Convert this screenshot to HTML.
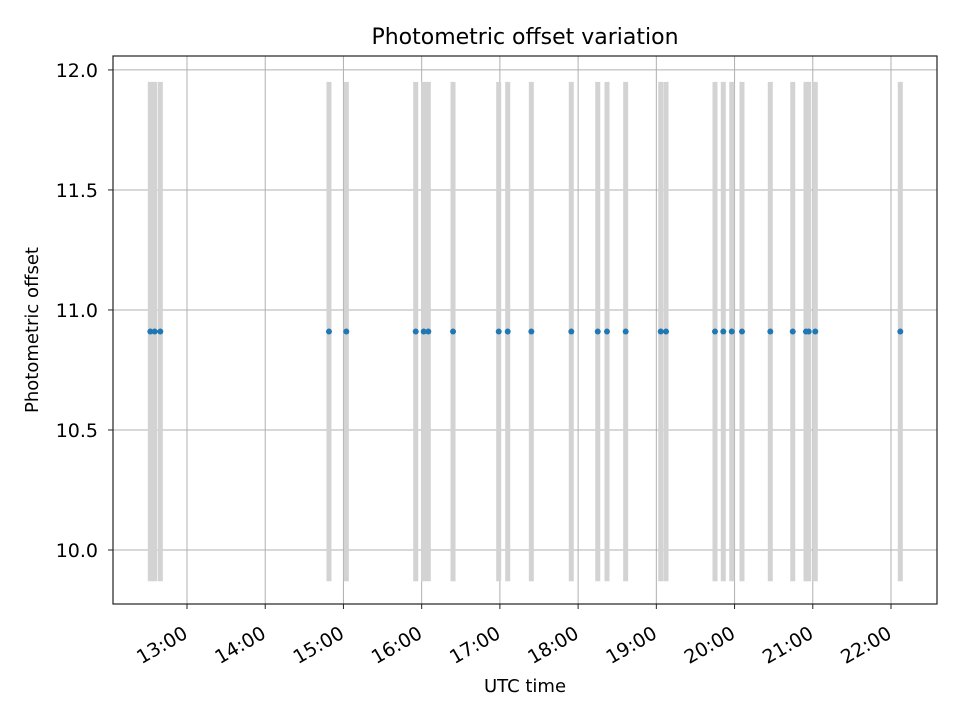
<!DOCTYPE html>
<html><head><meta charset="utf-8"><style>
body{margin:0;background:#fff}
svg text{font-family:"DejaVu Sans","Liberation Sans",sans-serif;fill:#000}
</style></head><body>
<svg id="chart" width="960" height="720" xmlns="http://www.w3.org/2000/svg"></svg>
<script>
const times = [12.531,12.587,12.659,14.815,15.037,15.924,16.026,16.085,16.401,16.985,17.100,17.402,17.913,18.251,18.369,18.608,19.056,19.124,19.750,19.856,19.964,20.095,20.457,20.744,20.913,20.948,21.032,22.119];
const offsets = times.map(()=>10.91);
const errLow = times.map(()=>9.87);
const errHigh = times.map(()=>11.95);
const xTickHours = [13,14,15,16,17,18,19,20,21,22];
const xTickLabels = ["13:00","14:00","15:00","16:00","17:00","18:00","19:00","20:00","21:00","22:00"];
const yTicks = [10.0,10.5,11.0,11.5,12.0];
const yTickLabels = ["10.0","10.5","11.0","11.5","12.0"];

const L=113,R=937,T=56,B=604;
const x0=12.054,x1=22.588,y0=9.775,y1=12.058;
const sx=v=>L+(v-x0)/(x1-x0)*(R-L);
const sy=v=>B-(v-y0)/(y1-y0)*(B-T);
const svg=document.getElementById('chart');
const NS='http://www.w3.org/2000/svg';
function mk(tag,attrs,parent){const e=document.createElementNS(NS,tag);for(const k in attrs)e.setAttribute(k,attrs[k]);(parent||svg).appendChild(e);return e;}

const grid=mk('g',{});


xTickHours.forEach(h=>{mk('line',{x1:sx(h),x2:sx(h),y1:T,y2:B,stroke:'#b0b0b0','stroke-width':1},grid);});
yTicks.forEach(v=>{mk('line',{x1:L,x2:R,y1:sy(v),y2:sy(v),stroke:'#b0b0b0','stroke-width':1},grid);});

const eg=mk('g',{});


times.forEach((t,i)=>{
  const l=mk('line',{x1:sx(t),x2:sx(t),y1:sy(errLow[i]),y2:sy(errHigh[i]),stroke:'#d3d3d3','stroke-width':5},eg);
  
  
});
const pg=mk('g',{});


times.forEach((t,i)=>{
  const c=mk('circle',{cx:sx(t),cy:sy(offsets[i]),r:3,fill:'#1f77b4'},pg);
  
  
});

const frame=mk('rect',{x:L,y:T,width:R-L,height:B-T,fill:'none',stroke:'#222','stroke-width':1.2});



const xa=mk('g',{});


xTickHours.forEach((h,i)=>{
  const x=sx(h);
  mk('line',{x1:x,x2:x,y1:B,y2:B+5,stroke:'#222','stroke-width':1},xa);
  const ax=x+2, ay=637;
  const tx=mk('text',{x:ax,y:ay,'font-size':19,'text-anchor':'end',transform:`rotate(-30 ${ax} ${ay})`},xa);
  tx.textContent=xTickLabels[i];
  
  
});
const ya=mk('g',{});


yTicks.forEach((v,i)=>{
  const y=sy(v);
  mk('line',{x1:L-5,x2:L,y1:y,y2:y,stroke:'#222','stroke-width':1},ya);
  const tx=mk('text',{x:L-15,y:y+7,'font-size':19,'text-anchor':'end'},ya);
  tx.textContent=yTickLabels[i];
  
  
});
const title=mk('text',{x:(L+R)/2,y:44,'font-size':22,'text-anchor':'middle'});
title.textContent='Photometric offset variation';


const xl=mk('text',{x:(L+R)/2,y:692,'font-size':18,'text-anchor':'middle'});
xl.textContent='UTC time';


const yl=mk('text',{x:38,y:(T+B)/2,'font-size':18,'text-anchor':'middle',transform:`rotate(-90 38 ${(T+B)/2})`});
yl.textContent='Photometric offset';


</script>
</body></html>
